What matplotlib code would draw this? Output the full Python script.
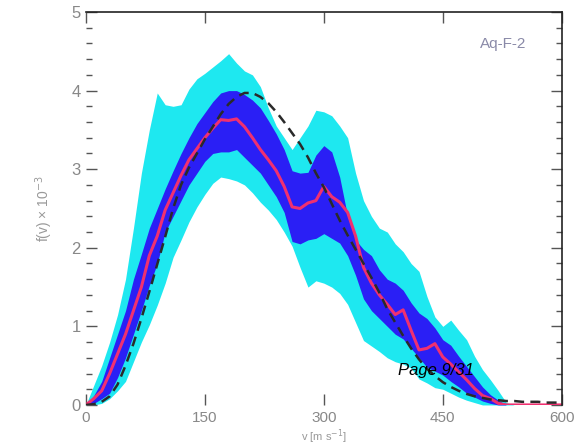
import matplotlib.pyplot as plt
from matplotlib.ticker import MultipleLocator

# velocity grid (m/s) and curves, f(v) x 10^-3
v = list(range(0, 610, 10))

median = [0, 0.08, 0.18, 0.4, 0.65, 0.9, 1.2, 1.5, 1.9, 2.15, 2.48, 2.7, 2.92, 3.12, 3.26,
          3.4, 3.52, 3.63, 3.62, 3.64, 3.54, 3.4, 3.25, 3.12, 2.98, 2.78, 2.52, 2.5, 2.57, 2.6,
          2.78, 2.65, 2.58, 2.45, 2.15, 1.75, 1.55, 1.4, 1.28, 1.15, 1.21, 0.95, 0.7, 0.72, 0.78,
          0.61, 0.52, 0.42, 0.32, 0.21, 0.12, 0.08, 0.02, 0, 0, 0, 0, 0, 0, 0, 0]

model = [0, 0.01, 0.04, 0.11, 0.26, 0.5, 0.78, 1.1, 1.44, 1.79, 2.14, 2.5, 2.8, 3.02, 3.2,
         3.38, 3.54, 3.7, 3.83, 3.92, 3.97, 3.97, 3.92, 3.84, 3.73, 3.6, 3.46, 3.32, 3.15, 2.95,
         2.77, 2.56, 2.35, 2.16, 1.98, 1.8, 1.62, 1.43, 1.22, 1.05, 0.88, 0.72, 0.58, 0.46, 0.37,
         0.29, 0.23, 0.18, 0.14, 0.11, 0.09, 0.07, 0.06, 0.05, 0.05, 0.04, 0.04, 0.04, 0.03, 0.03, 0.03]

inner_hi = [0, 0.12, 0.3, 0.6, 0.9, 1.2, 1.6, 1.92, 2.25, 2.5, 2.75, 2.98, 3.2, 3.4, 3.58,
            3.72, 3.86, 3.97, 4.0, 4.0, 3.95, 3.88, 3.78, 3.62, 3.45, 3.25, 2.98, 2.95, 2.96, 3.18,
            3.3, 3.22, 2.9, 2.4, 2.1, 1.98, 1.9, 1.72, 1.6, 1.55, 1.46, 1.3, 1.17, 1.1, 0.98,
            0.83, 0.76, 0.62, 0.49, 0.36, 0.23, 0.13, 0.06, 0, 0, 0, 0, 0, 0, 0, 0]

inner_lo = [0, 0.02, 0.08, 0.15, 0.35, 0.6, 0.9, 1.2, 1.52, 1.8, 2.2, 2.4, 2.6, 2.8, 2.95,
            3.1, 3.2, 3.22, 3.22, 3.25, 3.15, 3.05, 2.95, 2.8, 2.65, 2.45, 2.08, 2.05, 2.1, 2.12,
            2.18, 2.12, 2.06, 1.9, 1.65, 1.35, 1.2, 1.1, 1.0, 0.9, 0.84, 0.72, 0.6, 0.48, 0.43,
            0.38, 0.3, 0.23, 0.15, 0.1, 0.05, 0.02, 0, 0, 0, 0, 0, 0, 0, 0, 0]

outer_hi = [0, 0.25, 0.5, 0.8, 1.15, 1.6, 2.25, 2.95, 3.5, 3.97, 3.82, 3.8, 3.82, 4.02, 4.15,
            4.22, 4.3, 4.38, 4.47, 4.35, 4.25, 4.2, 4.05, 3.78, 3.55, 3.4, 3.25, 3.4, 3.55, 3.75,
            3.73, 3.68, 3.55, 3.4, 2.95, 2.6, 2.4, 2.25, 2.2, 2.05, 1.95, 1.8, 1.7, 1.38, 1.12,
            1.0, 1.08, 0.95, 0.83, 0.62, 0.45, 0.32, 0.18, 0.03, 0, 0, 0, 0, 0, 0, 0]

outer_lo = [0, 0, 0.02, 0.08, 0.18, 0.3, 0.55, 0.8, 1.02, 1.27, 1.55, 1.88, 2.1, 2.33, 2.52,
            2.68, 2.82, 2.9, 2.88, 2.85, 2.8, 2.7, 2.58, 2.48, 2.36, 2.2, 2.02, 1.75, 1.5, 1.58,
            1.55, 1.5, 1.42, 1.28, 1.05, 0.82, 0.75, 0.68, 0.6, 0.55, 0.52, 0.47, 0.33, 0.28, 0.22,
            0.2, 0.15, 0.1, 0.06, 0.03, 0, 0, 0, 0, 0, 0, 0, 0, 0, 0, 0]

xticks = [0, 150, 300, 450, 600]
yticks = [0, 1, 2, 3, 4, 5]

plt.rcParams['font.family'] = ['Liberation Sans', 'DejaVu Sans']

fig = plt.figure(figsize=(5.84, 4.45), dpi=100)
ax = fig.add_axes([0.147, 0.09, 0.815, 0.883])

ax.fill_between(v, outer_lo, outer_hi, color='#1ee8f0', lw=0)
ax.fill_between(v, inner_lo, inner_hi, color='#2a1ff5', lw=0)
ax.plot(v, median, color='#f03070', lw=2.2)
ax.plot(v, model, color='#2a2a2a', lw=1.8, ls=(0, (4, 2.5)))

ax.set_xlim(0, 600)
ax.set_ylim(0, 5)
ax.set_xticks(xticks)
ax.set_yticks(yticks)
ax.yaxis.set_minor_locator(MultipleLocator(0.2))
ax.tick_params(which='both', direction='in', top=True, right=True, colors='#555555',
               labelcolor='#888888', labelsize=12)
ax.tick_params(which='major', length=8, width=1)
ax.tick_params(which='minor', length=4, width=1)
ax.tick_params(axis='x', pad=4, labelsize=11)

for s in ['left', 'bottom']:
    ax.spines[s].set_visible(False)
for s in ['top', 'right']:
    ax.spines[s].set_color('#222222')
    ax.spines[s].set_linewidth(1.2)

ax.set_ylabel('f(v) × 10$^{-3}$', color='#999999', fontsize=10, labelpad=12)
ax.set_xlabel('v [m s$^{-1}$]', color='#999999', fontsize=8, labelpad=2)

ax.text(526, 4.59, 'Aq-F-2', color='#8a8aa8', fontsize=11, ha='center', va='center')
fig.text(0.682, 0.168, 'Page 9/31', fontsize=12, style='italic', color='black',
         ha='left', va='center')

fig.savefig('out.png', dpi=100)
